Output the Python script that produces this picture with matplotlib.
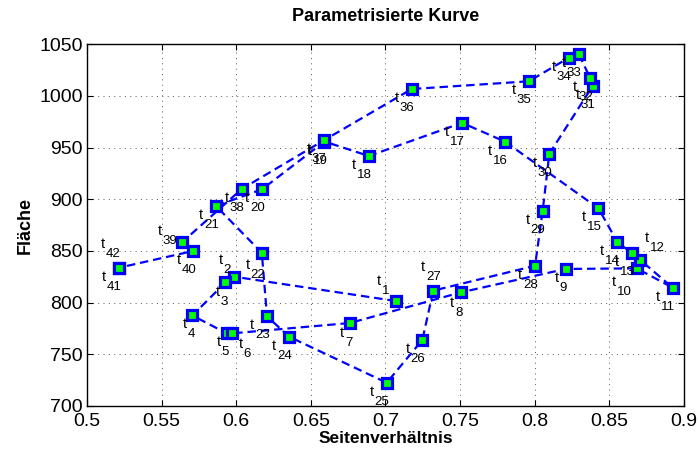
import numpy as np
import matplotlib
matplotlib.use("Agg")
import matplotlib.pyplot as plt

# Seitenverhaeltnis / Flaeche fuer t1 .. t42
aspect = [0.7068, 0.5987, 0.5927, 0.5706, 0.5936, 0.5974, 0.6762, 0.7506,
          0.8207, 0.8683, 0.8924, 0.8707, 0.8652, 0.8553, 0.8427, 0.7801,
          0.7513, 0.6889, 0.6591, 0.6173, 0.5864, 0.6171, 0.6206, 0.6353,
          0.7008, 0.7247, 0.7320, 0.8002, 0.8053, 0.8098, 0.8388, 0.8372,
          0.8296, 0.8229, 0.7961, 0.7176, 0.6585, 0.6037, 0.5639, 0.5712,
          0.5214, 0.5215]
area = [801.6, 825.1, 819.5, 787.6, 770.3, 770.3, 780.3, 810.0,
        832.6, 833.2, 814.5, 841.3, 847.8, 858.7, 891.3, 955.8,
        974.0, 941.9, 955.9, 909.7, 893.5, 848.3, 786.8, 767.1,
        722.5, 763.9, 811.6, 835.7, 888.7, 944.1, 1009.6, 1017.1,
        1040.3, 1037.0, 1014.2, 1006.7, 956.9, 910.0, 858.7, 850.0,
        833.8, 834.0]
labels = [str(i + 1) for i in range(len(aspect))]

xticks = [0.5, 0.55, 0.6, 0.65, 0.7, 0.75, 0.8, 0.85, 0.9]
xticklabels = ["0.5", "0.55", "0.6", "0.65", "0.7", "0.75", "0.8", "0.85", "0.9"]
yticks = [700, 750, 800, 850, 900, 950, 1000, 1050]

# label placement (pixels: left edge / baseline of the "t" relative to the point)
default_shift = (-17, 13)
shift = {"1": (-19, -16), "2": (-16, -13), "27": (-12, -20), "39": (-25, -7),
         "42": (-18, -20), "12": (5, -18), "10": (-25, 18), "6": (6, 15),
         "3": (-10, 14), "4": (-10, 13), "5": (-10, 13), "7": (-10, 14),
         "8": (-11, 15), "9": (-11, 13), "22": (-16, 16)}

plt.rcParams["font.family"] = ["Liberation Sans", "DejaVu Sans"]

fig = plt.figure(figsize=(6.99, 4.57), dpi=100)
ax = fig.add_axes([0.1245, 0.1116, 0.854, 0.7915])

ax.plot(aspect, area, color=(0, 0, 1), lw=1.6, dashes=(3.8, 2.2),
        marker="s", ms=6.6, mew=2.3, mec=(0, 0, 1), mfc=(0, 1, 0), zorder=3)

px = 0.72
for x, y, lab in zip(aspect, area, labels):
    dx, dy = shift.get(lab, default_shift)
    ax.annotate("t", (x, y), xytext=(dx * px, -dy * px), textcoords="offset points",
                ha="left", va="baseline", fontsize=10.5, zorder=4)
    ax.annotate(lab, (x, y), xytext=((dx + 5) * px, -(dy + 9) * px),
                textcoords="offset points", ha="left", va="baseline",
                fontsize=9.5, zorder=4)

ax.set_xlim(0.5, 0.9)
ax.set_ylim(700, 1050)
ax.set_xticks(xticks)
ax.set_xticklabels(xticklabels)
ax.set_yticks(yticks)
ax.tick_params(direction="in", top=True, right=True, length=4.5, width=0.8,
               labelsize=14, colors="black")
ax.tick_params(axis="x", pad=5)
ax.tick_params(axis="y", pad=3)
ax.grid(True, color="0.35", linestyle=(0, (1, 4.5)), linewidth=0.7)
for s in ax.spines.values():
    s.set_linewidth(1.0)

ax.set_title("Parametrisierte Kurve", fontsize=13, fontweight="bold", pad=17)
ax.set_xlabel("Seitenverhältnis", fontsize=12.5, fontweight="bold", labelpad=1)
ax.set_ylabel("Fläche", fontsize=13, fontweight="bold", labelpad=4)

fig.savefig("out.png", dpi=100)
